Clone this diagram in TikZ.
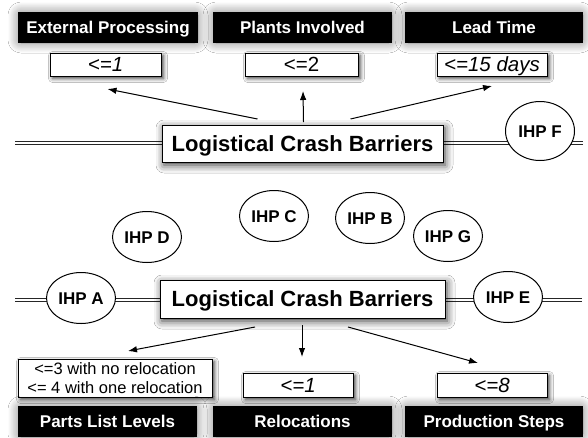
\documentclass[tikz,border=0pt]{standalone}
\usepackage{fontspec}
\setmainfont{Liberation Sans}
\usetikzlibrary{shapes.geometric,shadows.blur,arrows.meta}
\begin{document}
\begin{tikzpicture}[x=1pt,y=-1pt,
  % capitals centred: box height = cap height, no depth
  caps/.style={text height=#1,text depth=0pt},
  header/.style={caps=12.2pt,fill=black,text=white,inner sep=0pt,outer sep=0pt,minimum height=31pt,
     font=\bfseries\fontsize{17}{19}\selectfont,
     blur shadow={shadow xshift=0pt,shadow yshift=0pt,shadow blur radius=10pt,shadow blur steps=12,
       shadow blur extra rounding=3pt,shadow opacity=50}},
  valframe/.style={draw=black,fill=white,line width=0.9pt,inner sep=0pt,outer sep=0pt,
     blur shadow={shadow xshift=2.5pt,shadow yshift=-2.5pt,shadow blur radius=4pt,shadow opacity=75}},
  valbox/.style={valframe,caps=14.7pt,minimum height=23pt,font=\fontsize{20.5}{22}\selectfont},
  barrier/.style={caps=15.8pt,draw=black,fill=white,line width=1pt,inner sep=0pt,outer sep=0pt,minimum height=37pt,
     font=\bfseries\fontsize{22}{24}\selectfont,
     blur shadow={shadow xshift=2pt,shadow yshift=-3pt,shadow blur radius=8pt,shadow opacity=80}},
  plant/.style={caps=12.2pt,ellipse,draw=black,fill=white,line width=1pt,inner sep=0pt,minimum width=69pt,minimum height=51pt,
     font=\bfseries\fontsize{17}{19}\selectfont},
  rail/.style={draw=black!85,double=white,double distance=2.2pt,line width=1.1pt},
  link/.style={line width=1pt,-{Latex[length=9pt,width=6.5pt]}}
]
\fill[white] (0,0) rectangle (588,437);
\useasboundingbox (0,0) rectangle (588,437);

% rails carrying the barriers
\coordinate (r1w) at (15,143);
\coordinate (r1e) at (583,143);
\coordinate (r2w) at (15,300);
\coordinate (r2e) at (582,300);
\draw[rail] (r1w) -- (r1e);
\draw[rail] (r2w) -- (r2e);

% upper barrier and its criteria
\node[barrier,minimum width=281pt] (lcb1) at (302.5,143.5) {Logistical Crash Barriers};

\node[header,minimum width=180pt] (h1) at (108,27.5) {External Processing};
\node[header,minimum width=179pt] (h2) at (302.5,27.5) {Plants Involved};
\node[header,minimum width=178pt] (h3) at (494,27.5) {Lead Time};

\node[valbox,minimum width=111pt] (v1) at (105.5,64.5) {\itshape <=1};
\node[valbox,minimum width=113pt] (v2) at (301.5,64.5) {<=2};
\node[valbox,minimum width=110pt] (v3) at (492,64.5) {\itshape <=15 days};

\draw[link] ([shift={(-45,-6)}]lcb1.north) -- ([shift={(2,13)}]v1.south);
\draw[link] ([shift={(1,-3)}]lcb1.north) -- ([shift={(1.5,15)}]v2.south);
\draw[link] ([shift={(48,-6)}]lcb1.north) -- ([shift={(0,10)}]v3.south);

% plants
\node[plant,minimum height=59pt] (F) at (540,131) {IHP F};
\node[plant] (C) at (274,216) {IHP C};
\node[plant] (B) at (370,218) {IHP B};
\node[plant] (D) at (147,237) {IHP D};
\node[plant] (G) at (448,236) {IHP G};
\node[plant] (A) at (81,298) {IHP A};
\node[plant] (E) at (508,297) {IHP E};

% lower barrier and its criteria
\node[barrier,minimum width=285pt,minimum height=38pt] (lcb2) at (302.5,299) {Logistical Crash Barriers};

\node[valframe,minimum width=194pt,minimum height=38pt,font=\fontsize{16.5}{19.5}\selectfont,align=center] (w1) at (115,378)
  {<=3 with no relocation\\<= 4 with one relocation};
\node[valbox,minimum width=110pt,minimum height=24pt] (w2) at (298,385) {\itshape <=1};
\node[valbox,minimum width=110pt,minimum height=24pt] (w3) at (492,385) {\itshape <=8};

\node[header,minimum width=179pt] (k1) at (107.5,421.5) {Parts List Levels};
\node[header,minimum width=179pt] (k2) at (302.5,421.5) {Relocations};
\node[header,minimum width=178pt] (k3) at (494,421.5) {Production Steps};

\draw[link] ([shift={(-47.5,9)}]lcb2.south) -- ([shift={(13,-8)}]w1.north);
\draw[link] ([shift={(-0.5,7)}]lcb2.south) -- ([shift={(4,-16)}]w2.north);
\draw[link] ([shift={(45.5,9)}]lcb2.south) -- ([shift={(-14,-10)}]w3.north);
\end{tikzpicture}
\end{document}
